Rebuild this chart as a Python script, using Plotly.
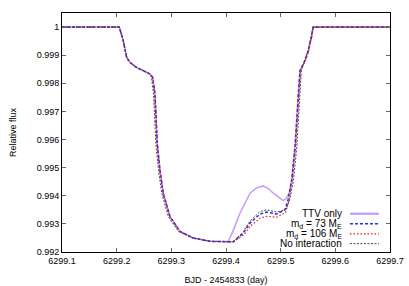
import plotly.graph_objects as go

# ---- data ----
t_md73 = [6299.10, 6299.2048, 6299.2121, 6299.2183, 6299.2244, 6299.2366, 6299.2487, 6299.2610,
          6299.2659, 6299.2701, 6299.2743, 6299.2792, 6299.2853, 6299.2975, 6299.3158, 6299.3402,
          6299.3707, 6299.4128, 6299.4316, 6299.4439, 6299.4622, 6299.4744, 6299.4927, 6299.5079,
          6299.5134, 6299.5201, 6299.5262, 6299.5322, 6299.5353, 6299.5444, 6299.5505, 6299.5567,
          6299.5596, 6299.70]
f_md73 = [1.0, 1.0, 0.99951, 0.99892, 0.99874, 0.99856, 0.99845, 0.99833,
          0.99821, 0.99762, 0.99585, 0.99491, 0.99409, 0.99326, 0.99273, 0.99250,
          0.99238, 0.99236, 0.99267, 0.99303, 0.99335, 0.99342, 0.99335, 0.99350,
          0.99385, 0.99456, 0.99573, 0.99762, 0.99845, 0.99880, 0.99915, 0.99968,
          1.0, 1.0]

t_ttv = [6299.10, 6299.2048, 6299.2121, 6299.2183, 6299.2244, 6299.2366, 6299.2487, 6299.2610,
         6299.2659, 6299.2701, 6299.2743, 6299.2792, 6299.2853, 6299.2975, 6299.3158, 6299.3402,
         6299.3707, 6299.4042, 6299.4150, 6299.4256, 6299.4439, 6299.4560, 6299.4682, 6299.4780,
         6299.4865, 6299.4960, 6299.5048, 6299.5100, 6299.5160, 6299.5201, 6299.5262, 6299.5322,
         6299.5353, 6299.5444, 6299.5505, 6299.5567, 6299.5596, 6299.70]
f_ttv = [1.0, 1.0, 0.99951, 0.99892, 0.99874, 0.99856, 0.99845, 0.99833,
         0.99821, 0.99762, 0.99585, 0.99491, 0.99409, 0.99326, 0.99273, 0.99250,
         0.99238, 0.99237, 0.99285, 0.99338, 0.99409, 0.99428, 0.99435, 0.99425,
         0.99409, 0.99395, 0.99383, 0.99390, 0.99412, 0.99456, 0.99573, 0.99762,
         0.99845, 0.99880, 0.99915, 0.99968, 1.0, 1.0]

t_md106 = [6299.10, 6299.2045, 6299.2118, 6299.2180, 6299.2242, 6299.2364, 6299.2485, 6299.2608,
           6299.2657, 6299.2699, 6299.2741, 6299.2790, 6299.2851, 6299.2973, 6299.3156, 6299.3400,
           6299.3705, 6299.4140, 6299.4330, 6299.4450, 6299.4622, 6299.4744, 6299.4927, 6299.5090,
           6299.5150, 6299.5213, 6299.5273, 6299.5332, 6299.5362, 6299.5452, 6299.5512, 6299.5572,
           6299.5600, 6299.70]
f_md106 = [1.0, 1.0, 0.99951, 0.99892, 0.99874, 0.99856, 0.99845, 0.99833,
           0.99821, 0.99762, 0.99585, 0.99491, 0.99409, 0.99326, 0.99273, 0.99250,
           0.99238, 0.99236, 0.99262, 0.99293, 0.99320, 0.99327, 0.99324, 0.99340,
           0.99385, 0.99456, 0.99573, 0.99762, 0.99845, 0.99880, 0.99915, 0.99968,
           1.0, 1.0]

t_noint = [6299.10, 6299.2050, 6299.2125, 6299.2188, 6299.2250, 6299.2370, 6299.2490, 6299.2600,
           6299.2635, 6299.2675, 6299.2717, 6299.2765, 6299.2825, 6299.2945, 6299.3130, 6299.3380,
           6299.3700, 6299.4128, 6299.4316, 6299.4439, 6299.4622, 6299.4744, 6299.4927, 6299.5100,
           6299.5165, 6299.5235, 6299.5295, 6299.5352, 6299.5378, 6299.5440, 6299.5500, 6299.5560,
           6299.5590, 6299.70]
f_noint = [1.0, 1.0, 0.99951, 0.99892, 0.99874, 0.99856, 0.99845, 0.99834,
           0.99822, 0.99762, 0.99585, 0.99491, 0.99409, 0.99326, 0.99273, 0.99250,
           0.99238, 0.99236, 0.99272, 0.99310, 0.99344, 0.99350, 0.99342, 0.99352,
           0.99385, 0.99456, 0.99573, 0.99762, 0.99845, 0.99882, 0.99918, 0.99970,
           1.0, 1.0]

x_ticks = [6299.1, 6299.2, 6299.3, 6299.4, 6299.5, 6299.6, 6299.7]
x_tick_labels = ["6299.1", "6299.2", "6299.3", "6299.4", "6299.5", "6299.6", "6299.7"]
y_ticks = [0.992, 0.993, 0.994, 0.995, 0.996, 0.997, 0.998, 0.999, 1.0]
y_tick_labels = ["0.992", "0.993", "0.994", "0.995", "0.996", "0.997", "0.998", "0.999", "1"]

series_names = ["TTV only", "m<sub>d</sub> = 73 M<sub>E</sub>",
                "m<sub>d</sub> = 106 M<sub>E</sub>", "No interaction"]

# ---- styles ----
styles = [
    dict(color="#c49cff", width=1.5, dash="solid"),
    dict(color="#2233ee", width=1.5, dash="3px,2px"),
    dict(color="#ff1010", width=1.2, dash="1.5px,2px"),
    dict(color="#444444", width=1.0, dash="2px,1.5px"),
]
series = [(t_ttv, f_ttv), (t_md73, f_md73), (t_md106, f_md106), (t_noint, f_noint)]

FONT = "Liberation Sans, Arial, sans-serif"
fig = go.Figure()
for (tx, fy), st, nm in zip(series, styles, series_names):
    fig.add_trace(go.Scatter(x=tx, y=fy, mode="lines", name=nm, line=st,
                             showlegend=False, hoverinfo="skip"))

# custom gnuplot-style legend (text right, sample to the right)
leg_rows_y = [0.160, 0.118, 0.076, 0.035]
for nm, st, yy in zip(series_names, styles, leg_rows_y):
    fig.add_annotation(x=0.860, y=yy, xref="paper", yref="paper", text=nm,
                       showarrow=False, xanchor="right", yanchor="middle",
                       font=dict(family=FONT, size=10, color="black"))
    fig.add_shape(type="line", xref="paper", yref="paper", x0=0.878, x1=0.966,
                  y0=yy, y1=yy,
                  line=dict(color=st["color"],
                            width=st["width"] + (0.8 if st["dash"] == "solid" else 0),
                            dash=st["dash"]))

axis_common = dict(showline=True, mirror="allticks", linecolor="black", linewidth=1,
                   ticks="inside", ticklen=4, tickcolor="#666666", tickwidth=1,
                   showgrid=False, zeroline=False, automargin=False,
                   tickfont=dict(family=FONT, size=9, color="black"))

fig.update_layout(
    width=409, height=286,
    margin=dict(l=62, r=19, t=13, b=34),
    paper_bgcolor="white", plot_bgcolor="white",
    font=dict(family=FONT, size=9, color="black"),
    hovermode=False,
    xaxis=dict(range=[6299.1, 6299.7], tickvals=x_ticks, ticktext=x_tick_labels,
               title=dict(text="BJD - 2454833 (day)", standoff=11,
                          font=dict(family=FONT, size=9)), **axis_common),
    yaxis=dict(range=[0.992, 1.0005], tickvals=y_ticks, ticktext=y_tick_labels,
               title=dict(text="Relative flux", standoff=18,
                          font=dict(family=FONT, size=9)), **axis_common),
)

fig.write_html("out.html", config={"displayModeBar": False},
               post_script="document.body.style.margin='0';document.body.style.padding='0';")
